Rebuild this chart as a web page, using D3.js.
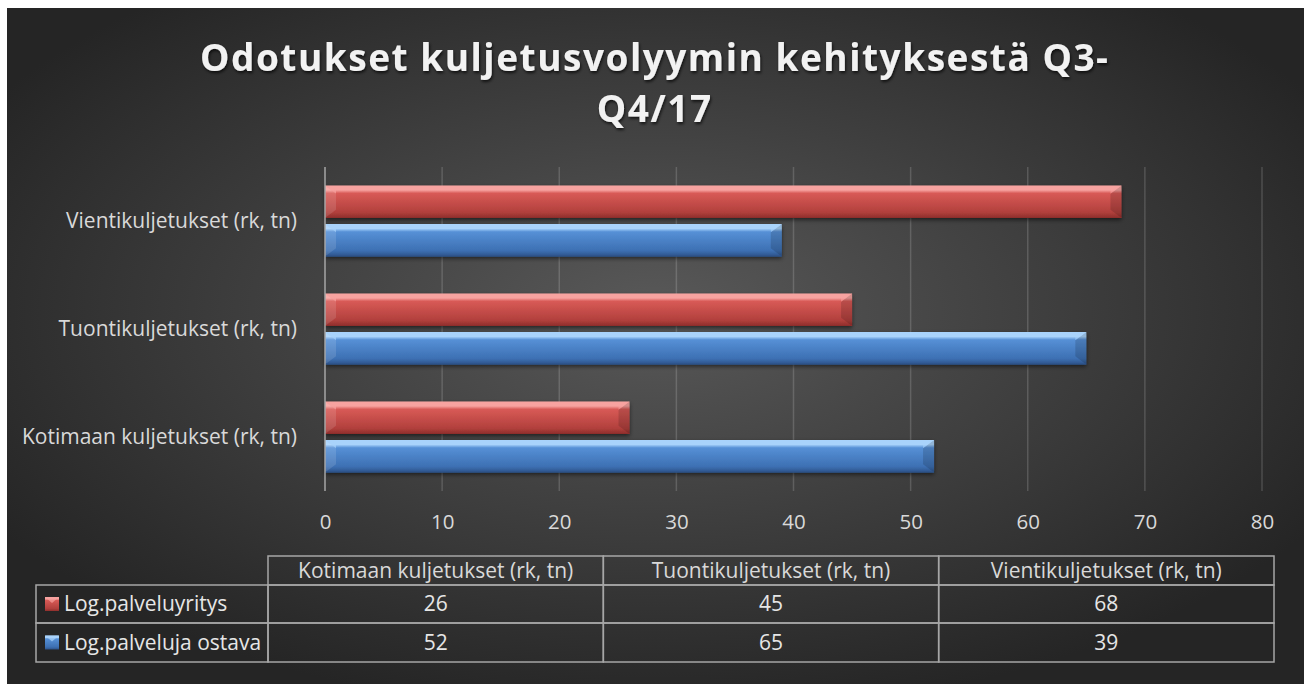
<!DOCTYPE html>
<html>
<head>
<meta charset="utf-8">
<script src="https://cdn.jsdelivr.net/npm/d3@7"></script>
<style>
  html, body { margin: 0; padding: 0; background: #ffffff; }
  svg { display: block; }
  text { font-family: "Open Sans", "Noto Sans", sans-serif; }
</style>
</head>
<body>
<div id="chart"></div>
<script>
// data
const title = ["Odotukset kuljetusvolyymin kehityksestä Q3-", "Q4/17"];
const categories = ["Kotimaan kuljetukset (rk, tn)", "Tuontikuljetukset (rk, tn)", "Vientikuljetukset (rk, tn)"];
const seriesNames = ["Log.palveluyritys", "Log.palveluja ostava"];
const palveluyritys = [26, 45, 68];
const palvelujaOstava = [52, 65, 39];
const xTicks = [0, 10, 20, 30, 40, 50, 60, 70, 80];

const seriesValues = [palveluyritys, palvelujaOstava];
const colors = [
  { light: "#f7a3a0", main: "#d85a56", dark: "#b2403d", edge: "#8e2f2c" },
  { light: "#a9d3fb", main: "#5690d6", dark: "#3d70b3", edge: "#2d5288" }
];

const W = 1304, H = 684;
const svg = d3.select("#chart").append("svg")
  .attr("width", W).attr("height", H);

const defs = svg.append("defs");

// background gradient
const bg = defs.append("radialGradient").attr("id", "bg")
  .attr("cx", "50%").attr("cy", "45%").attr("r", "60%");
bg.append("stop").attr("offset", "0%").attr("stop-color", "#595959");
bg.append("stop").attr("offset", "100%").attr("stop-color", "#252525");

// bar gradients
colors.forEach((c, i) => {
  const lg = defs.append("linearGradient").attr("id", "bar" + i)
    .attr("x1", 0).attr("y1", 0).attr("x2", 0).attr("y2", 1);
  lg.append("stop").attr("offset", "0%").attr("stop-color", c.light);
  lg.append("stop").attr("offset", "14%").attr("stop-color", c.light);
  lg.append("stop").attr("offset", "24%").attr("stop-color", c.main);
  lg.append("stop").attr("offset", "82%").attr("stop-color", c.dark);
  lg.append("stop").attr("offset", "100%").attr("stop-color", c.edge);
});

const shadow = defs.append("filter").attr("id", "shadow")
  .attr("x", "-5%").attr("y", "-20%").attr("width", "110%").attr("height", "160%");
shadow.append("feDropShadow").attr("dx", 0).attr("dy", 2).attr("stdDeviation", 2)
  .attr("flood-color", "#000").attr("flood-opacity", 0.55);

const tshadow = defs.append("filter").attr("id", "tshadow")
  .attr("x", "-5%").attr("y", "-20%").attr("width", "110%").attr("height", "160%");
tshadow.append("feDropShadow").attr("dx", 1).attr("dy", 2).attr("stdDeviation", 1.5)
  .attr("flood-color", "#000").attr("flood-opacity", 0.7);

svg.append("rect")
  .attr("x", 7).attr("y", 8).attr("width", W - 7).attr("height", H - 8)
  .attr("fill", "url(#bg)");

// title
const titleG = svg.append("g").attr("filter", "url(#tshadow)");
const t1 = titleG.append("text")
  .attr("x", 654).attr("y", 71)
  .attr("text-anchor", "middle")
  .attr("font-size", 37).attr("font-weight", 700)
  .attr("fill", "#f2f2f2")
  .text(title[0]);
const natural = t1.node().getComputedTextLength();
const ls = Math.max(0, (908 - natural) / (title[0].length - 1));
t1.attr("textLength", 908).attr("lengthAdjust", "spacing");
titleG.append("text")
  .attr("x", 654 + ls / 2).attr("y", 122)
  .attr("text-anchor", "middle")
  .attr("font-size", 37).attr("font-weight", 700)
  .attr("fill", "#f2f2f2")
  .style("letter-spacing", ls + "px")
  .text(title[1]);

// scales
const plotTop = 167, plotBottom = 491;
const x = d3.scaleLinear().domain([0, 80]).range([325, 1262]);
const y = d3.scaleBand().domain(categories.slice().reverse()).range([plotTop, plotBottom]);
const ySub = d3.scaleBand().domain(seriesNames).range([0, y.bandwidth()])
  .paddingInner(0.156).paddingOuter(0.48);

// gridlines
svg.append("g").selectAll("line")
  .data(xTicks.slice(1))
  .enter().append("line")
  .attr("x1", d => x(d)).attr("x2", d => x(d))
  .attr("y1", plotTop).attr("y2", plotBottom)
  .attr("stroke", "#ffffff").attr("stroke-opacity", 0.16).attr("stroke-width", 1.5);

// x axis labels
const xAxis = d3.axisBottom(x).tickValues(xTicks).tickSize(0).tickPadding(0);
const gx = svg.append("g")
  .attr("transform", "translate(0," + 514 + ")")
  .call(xAxis);
gx.select(".domain").remove();
gx.selectAll("text")
  .attr("font-size", 20.5).attr("fill", "#d9d9d9")
  .attr("font-family", "\"Open Sans\", sans-serif");

// category labels
const yAxis = d3.axisLeft(y).tickSize(0).tickPadding(28);
const gy = svg.append("g")
  .attr("transform", "translate(325,0)")
  .call(yAxis);
gy.select(".domain").remove();
gy.selectAll("text")
  .attr("font-size", 21).attr("fill", "#d9d9d9")
  .attr("font-family", "\"Open Sans\", sans-serif");

// bars
function bevelBar(g, x0, x1, y0, h, i) {
  const c = Math.min(11, (x1 - x0) / 2);
  const y1 = y0 + h;
  g.append("rect")
    .attr("x", x0).attr("y", y0).attr("width", x1 - x0).attr("height", h)
    .attr("fill", "url(#bar" + i + ")")
    .attr("filter", "url(#shadow)");
  // left chamfer
  g.append("polygon")
    .attr("points", [[x0, y0], [x0 + c, y0 + c * 0.75], [x0 + c, y1 - c * 0.75], [x0, y1]].join(" "))
    .attr("fill", "#ffffff").attr("fill-opacity", 0.12);
  g.append("polygon")
    .attr("points", [[x0, y0], [x0 + c, y0 + c * 0.75], [x0 + c, y0 + 4]].join(" "))
    .attr("fill", colors[i].light).attr("fill-opacity", 0.7);
  // right chamfer
  g.append("polygon")
    .attr("points", [[x1, y0], [x1 - c, y0 + c * 0.75], [x1 - c, y1 - c * 0.75], [x1, y1]].join(" "))
    .attr("fill", "#000000").attr("fill-opacity", 0.14);
  g.append("polygon")
    .attr("points", [[x1, y0], [x1 - c, y0 + 4], [x1 - c, y0 + c * 0.75]].join(" "))
    .attr("fill", colors[i].light).attr("fill-opacity", 0.55);
  // bottom edge
  g.append("line")
    .attr("x1", x0).attr("x2", x1).attr("y1", y1 - 0.5).attr("y2", y1 - 0.5)
    .attr("stroke", colors[i].edge).attr("stroke-width", 1);
}

const barsG = svg.append("g");
categories.forEach((cat, ci) => {
  seriesNames.forEach((s, si) => {
    const v = seriesValues[si][ci];
    bevelBar(barsG, x(0), x(v), y(cat) + ySub(s), ySub.bandwidth(), si);
  });
});

// zero axis line
svg.append("line")
  .attr("x1", x(0)).attr("x2", x(0))
  .attr("y1", plotTop).attr("y2", plotBottom)
  .attr("stroke", "#a6a6a6").attr("stroke-width", 1.5);

// data table
const tableLeft = 36, labelRight = 268, tableRight = 1274;
const headTop = 556, rowTops = [585, 623], tableBottom = 662;
const col = d3.scaleBand().domain(categories).range([labelRight, tableRight]);
const row = d3.scaleOrdinal().domain(seriesNames).range(rowTops);
const rowH = d3.scaleOrdinal().domain(seriesNames).range([rowTops[1] - rowTops[0], tableBottom - rowTops[1]]);
const tg = svg.append("g");
const lineColor = "#a6a6a6";

// header cells
categories.forEach(cat => {
  tg.append("rect")
    .attr("x", col(cat)).attr("y", headTop)
    .attr("width", col.bandwidth()).attr("height", rowTops[0] - headTop)
    .attr("fill", "none").attr("stroke", lineColor).attr("stroke-width", 1.5);
  tg.append("text")
    .attr("x", col(cat) + col.bandwidth() / 2).attr("y", (headTop + rowTops[0]) / 2)
    .attr("dy", "0.35em").attr("text-anchor", "middle")
    .attr("font-size", 21).attr("fill", "#d9d9d9")
    .text(cat);
});

seriesNames.forEach((s, si) => {
  const ry = row(s), rh = rowH(s);
  tg.append("rect")
    .attr("x", tableLeft).attr("y", ry)
    .attr("width", labelRight - tableLeft).attr("height", rh)
    .attr("fill", "none").attr("stroke", lineColor).attr("stroke-width", 1.5);
  // legend key
  tg.append("rect")
    .attr("x", 45).attr("y", ry + rh / 2 - 7)
    .attr("width", 14).attr("height", 14)
    .attr("fill", "url(#bar" + si + ")");
  tg.append("polygon")
    .attr("points", [[45, ry + rh / 2 - 7], [52, ry + rh / 2 - 1], [59, ry + rh / 2 - 7]].join(" "))
    .attr("fill", colors[si].light).attr("fill-opacity", 0.7);
  tg.append("text")
    .attr("x", 64).attr("y", ry + rh / 2)
    .attr("dy", "0.35em")
    .attr("font-size", 21).attr("fill", "#e6e6e6")
    .text(s);
  categories.forEach((cat, ci) => {
    tg.append("rect")
      .attr("x", col(cat)).attr("y", ry)
      .attr("width", col.bandwidth()).attr("height", rh)
      .attr("fill", "none").attr("stroke", lineColor).attr("stroke-width", 1.5);
    tg.append("text")
      .attr("x", col(cat) + col.bandwidth() / 2).attr("y", ry + rh / 2)
      .attr("dy", "0.35em").attr("text-anchor", "middle")
      .attr("font-size", 21).attr("fill", "#e6e6e6")
      .text(seriesValues[si][ci]);
  });
});
</script>
</body>
</html>
